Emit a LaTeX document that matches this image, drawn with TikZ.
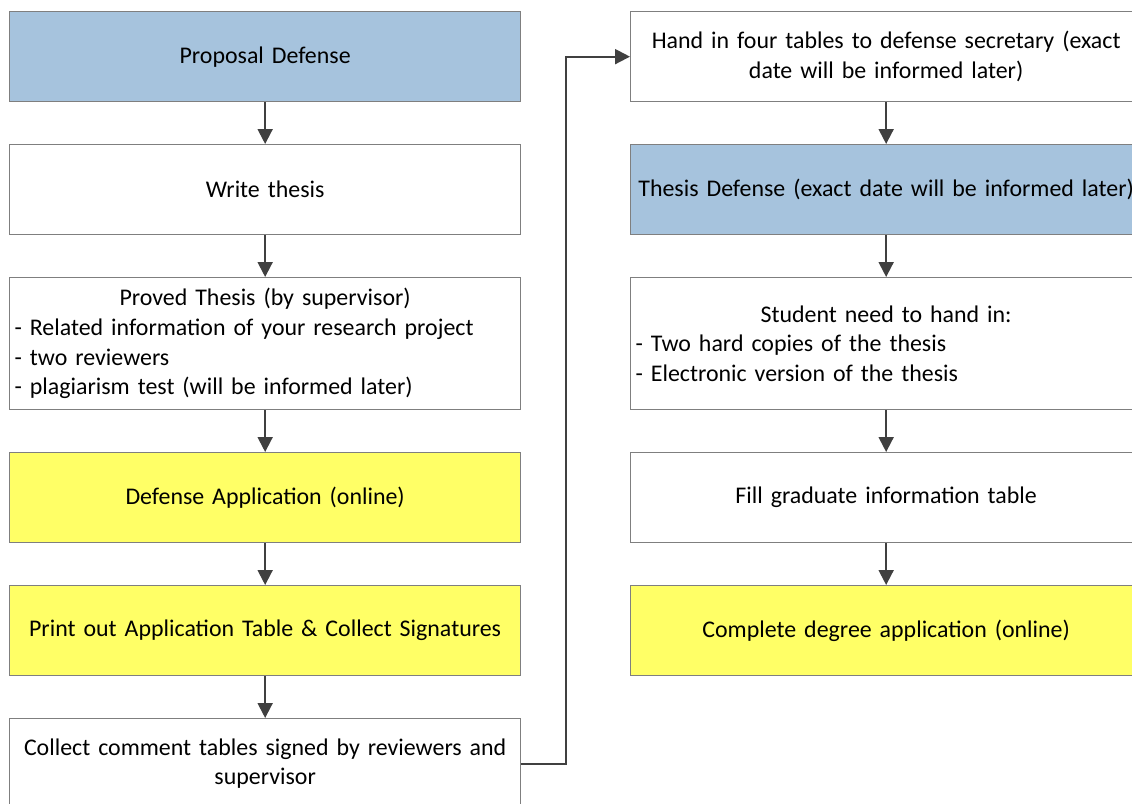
\documentclass[tikz,border=0pt]{standalone}
\usepackage{fontspec}
\setmainfont{Carlito}
\usetikzlibrary{arrows.meta}
\definecolor{boxblue}{HTML}{A6C3DD}
\definecolor{boxyellow}{HTML}{FFFF66}
\definecolor{edgegray}{HTML}{7F7F7F}
\definecolor{arrowgray}{HTML}{404040}
\newcommand{\ctrline}[1]{\makebox[501pt][c]{#1}}
\begin{document}
\begin{tikzpicture}[x=1pt,y=-1pt,
  box/.style={draw=edgegray, line width=1.3pt, minimum width=511pt, minimum height=90pt,
    inner xsep=5pt, inner ysep=0pt, text width=501pt, align=center,
    font=\fontsize{23.9}{29.6}\selectfont, anchor=north west},
  bluebox/.style={box, fill=boxblue},
  yellowbox/.style={box, fill=boxyellow},
  whitebox/.style={box, fill=white},
  arr/.style={draw=arrowgray, line width=2pt, -{Triangle[length=15pt,width=15pt]}}
]
\useasboundingbox (0,0) rectangle (1132,803);
\clip (0,0) rectangle (1132,803);
% left column
\node[bluebox] (pd) at (9,11) {Proposal Defense};
\node[whitebox] (wt) at (9,144) {Write thesis};
\node[whitebox, minimum height=132pt, align=left] (pt) at (9,277)
  {\ctrline{Proved Thesis (by supervisor)}\\
   - Related information of your research project\\
   - two reviewers\\
   - plagiarism test (will be informed later)};
\node[yellowbox] (da) at (9,452) {Defense Application (online)};
\node[yellowbox] (po) at (9,585) {Print out Application Table \& Collect Signatures};
\node[whitebox] (cc) at (9,718) {Collect comment tables signed by reviewers and\\ supervisor};
% right column
\node[whitebox] (hi) at (630,11) {Hand in four tables to defense secretary (exact\\ date will be informed later)};
\node[bluebox] (td) at (630,144) {\ctrline{Thesis Defense (exact date will be informed later)}};
\node[whitebox, minimum height=132pt, align=left] (st) at (630,277)
  {\ctrline{Student need to hand in:}\\
   - Two hard copies of the thesis\\
   - Electronic version of the thesis};
\node[whitebox] (fg) at (630,452) {Fill graduate information table};
\node[yellowbox] (cd) at (630,585) {Complete degree application (online)};
% connectors
\draw[arr] (pd.south) -- (wt.north);
\draw[arr] (wt.south) -- (pt.north);
\draw[arr] (pt.south) -- (da.north);
\draw[arr] (da.south) -- (po.north);
\draw[arr] (po.south) -- (cc.north);
\draw[arr] (cc.east) -- ++(45,0) |- (hi.west);
\draw[arr] (hi.south) -- (td.north);
\draw[arr] (td.south) -- (st.north);
\draw[arr] (st.south) -- (fg.north);
\draw[arr] (fg.south) -- (cd.north);
\end{tikzpicture}
\end{document}
